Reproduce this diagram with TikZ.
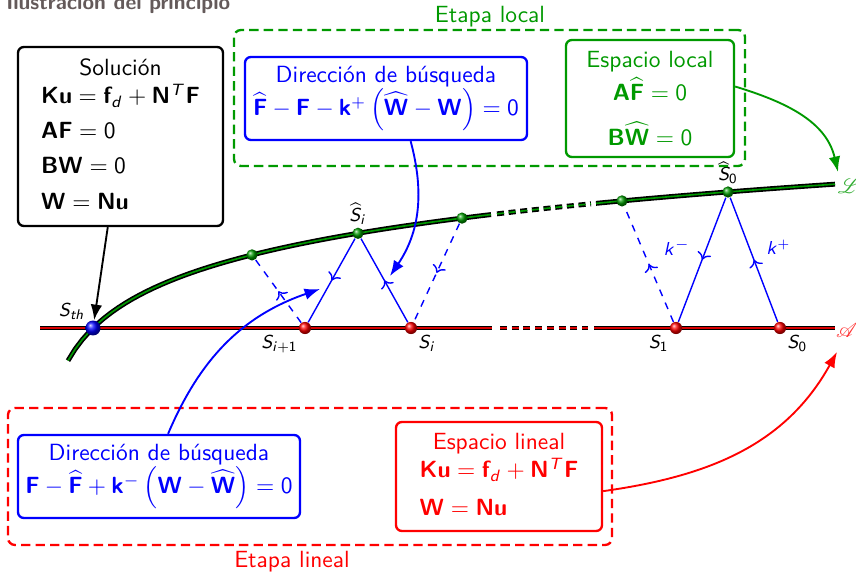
\documentclass[tikz,border=0pt]{standalone}
\usepackage{amsmath}
\usepackage{tikz}
\usetikzlibrary{arrows.meta, positioning, calc, decorations.markings}
\renewcommand{\familydefault}{\sfdefault}
\DeclareSymbolFont{operators}{OT1}{cmss}{m}{n}
\DeclareSymbolFont{letters}{OT1}{cmss}{m}{sl}
\DeclareMathAlphabet{\mathbf}{OT1}{cmss}{bx}{n}
\DeclareMathAlphabet{\mathscr}{U}{rsfs}{m}{n}
\definecolor{verde}{rgb}{0,0.6,0}
\definecolor{gristitulo}{RGB}{100,90,90}
\newcommand{\vb}[1]{\mathbf{#1}}

\begin{document}
\begin{tikzpicture}[x=0.015cm, y=-0.015cm, >=Latex]
\tikzset{
  caja/.style={draw=#1, text=#1, line width=1pt, rounded corners=2.5pt, inner sep=2pt},
  etapa/.style={draw=#1, line width=1pt, dash pattern=on 4pt off 2.2pt, rounded corners=3pt},
  bola/.style={circle, shading=ball, ball color=#1, inner sep=0pt, minimum size=4.8pt},
  paso/.style={blue, semithick, postaction={decorate},
    decoration={markings, mark=at position 0.5 with {\arrow{To}}}},
  doble/.style={draw=black, double=#1, double distance=0.7pt, line width=0.7pt},
  etiq/.style={font=\footnotesize, inner sep=1pt},
}
\useasboundingbox (0,0) rectangle (856,574);

\node[anchor=base west, text=gristitulo, font=\bfseries\small] (titulo) at (-2,10) {Ilustración del principio};

% ── Espacios L y A ──────────────────────────────────────────────
\draw[doble=verde, domain=68:491, samples=60] plot (\x, {543.6-53.8*ln(\x-38)});
\draw[doble=verde, domain=497:591, samples=15, dash pattern=on 3pt off 2pt] plot (\x, {543.6-53.8*ln(\x-38)});
\draw[doble=verde, domain=596:835, samples=30] plot (\x, {543.6-53.8*ln(\x-38)});

\draw[doble=red!85!black] (40,328) -- (492,328);
\draw[doble=red!85!black, dash pattern=on 3pt off 2pt] (500,328) -- (588,328);
\draw[doble=red!85!black] (594,328) -- (835,328);

\node[text=verde!80, font=\small] (Lab) at (849,186) {$\mathscr{L}$};
\node[text=red!80, font=\small] (Aab) at (847,330) {$\mathscr{A}$};

% Puntos
\node[bola=blue, minimum size=6.4pt, label={[etiq]above left:$S_{th}$}] (Sth) at (93,328) {};
\node[bola=red, minimum size=5.2pt, label={[etiq]below left:$S_{i+1}$}] (Si1) at (305,328) {};
\node[bola=red, minimum size=5.2pt, label={[etiq]below right:$S_i$}] (Si) at (411,328) {};
\node[bola=red, minimum size=5.2pt, label={[etiq]below left:$S_1$}] (S1) at (676,328) {};
\node[bola=red, minimum size=5.2pt, label={[etiq]below right:$S_0$}] (S0) at (780,328) {};
\node[bola=verde] (g1) at (252,254.9) {};
\node[bola=verde, label={[etiq]above:$\widehat{S}_i$}] (Shi) at (358,233.3) {};
\node[bola=verde] (g3) at (462,218.1) {};
\node[bola=verde] (g4) at (622,200.9) {};
\node[bola=verde, label={[etiq]above:$\widehat{S}_0$}] (Sh0) at (728,192) {};

% Pasos
\draw[paso] (Si) -- (Shi);
\draw[paso] (Shi) -- (Si1);
\draw[paso, dashed] (Si1) -- (g1);
\draw[paso, dashed] (g3) -- (Si);
\draw[paso, dashed] (S1) -- (g4);
\draw[paso] (S0) -- node[etiq, right=6pt, pos=0.6, text=blue] {$k^+$} (Sh0);
\draw[paso] (Sh0) -- node[etiq, left=6pt, pos=0.4, text=blue] {$k^-$} (S1);

% ── Etapa local ─────────────────────────────────────────────────
\node[etapa=verde, minimum width=7.665cm, minimum height=2.04cm] (local) at (489.5,98) {};
\node[text=verde] (etloc) at (490,17) {Etapa local};
\node[caja=blue, minimum width=4.23cm, minimum height=1.245cm, align=center] (dirloc) at (386,98.5)
  {Dirección de búsqueda\\ $\widehat{\vb F}-\vb F-\vb k^{+}\left(\widehat{\vb W}-\vb W\right)=0$};
\node[caja=verde, minimum width=2.52cm, minimum height=1.755cm, align=center] (esploc) at (650,98.5)
  {Espacio local\\[2pt] $\vb A\widehat{\vb F}=0$\\[7pt] $\vb B\widehat{\vb W}=0$};

% ── Etapa lineal ────────────────────────────────────────────────
\node[etapa=red, minimum width=9.06cm, minimum height=2.055cm] (lineal) at (310,476.5) {};
\node[text=red] (etlin) at (292,562) {Etapa lineal};
\node[caja=blue, minimum width=4.23cm, minimum height=1.245cm, align=center] (dirlin) at (159,476.5)
  {Dirección de búsqueda\\ $\vb F-\widehat{\vb F}+\vb k^{-}\left(\vb W-\widehat{\vb W}\right)=0$};
\node[caja=red, minimum width=3.09cm, minimum height=1.635cm] (esplin) at (499,476.5)
  {\begin{tabular}{@{}l@{}}\multicolumn{1}{@{}c@{}}{Espacio lineal}\\
   $\vb{Ku}=\vb f_d+\vb N^T\vb F$\\[4pt] $\vb W=\vb{Nu}$\end{tabular}};

% ── Solución ────────────────────────────────────────────────────
\node[caja=black, minimum width=3.075cm, minimum height=2.685cm] (sol) at (120.5,136.5)
  {\begin{tabular}{@{}l@{}}\multicolumn{1}{@{}c@{}}{Solución}\\
   $\vb{Ku}=\vb f_d+\vb N^T\vb F$\\[3pt] $\vb{AF}=0$\\[3pt] $\vb{BW}=0$\\[3pt] $\vb W=\vb{Nu}$\end{tabular}};

% Flechas
\coordinate (pL) at (838,172);
\coordinate (pA) at (837,352);
\coordinate (pki) at (390,276);
\coordinate (pkm) at (320,289);
\draw[thick, ->] (sol.262) -- (Sth);
\draw[verde, thick, ->] (esploc.8) to[out=-17, in=103] (pL);
\draw[red, thick, ->] (esplin.-8) to[out=8, in=241] (pA);
\draw[blue, thick, ->] (dirloc.-60) to[out=-75, in=56] (pki);
\draw[blue, thick, ->] (dirlin.78) to[out=67, in=199] (pkm);

\end{tikzpicture}
\end{document}
